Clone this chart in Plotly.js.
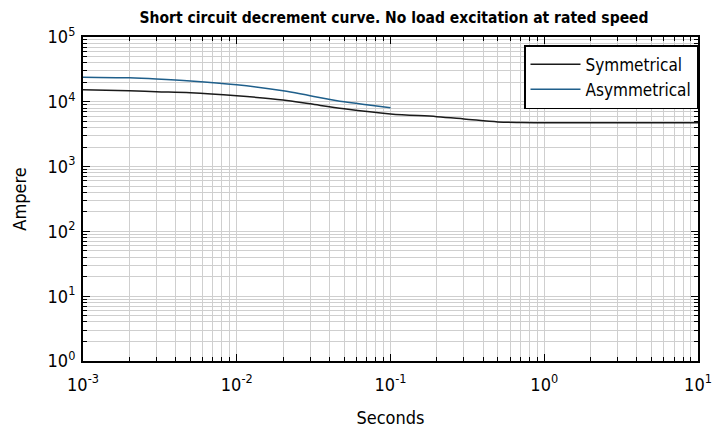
<!DOCTYPE html>
<html><head><meta charset="utf-8">
<script src="https://cdn.plot.ly/plotly-3.0.1.min.js"></script>
<style>html,body{margin:0;padding:0;background:#fff}#chart{width:723px;height:433px}</style>
</head><body><div id="chart"></div>
<script>
const symX = [0.001, 0.002, 0.003, 0.005, 0.01, 0.02, 0.03, 0.05, 0.1, 0.2, 0.3, 0.5, 0.7, 1, 2, 5, 10];
const symY = [15300, 14800, 14300, 13800, 12400, 10700, 9300, 7800, 6500, 5900, 5450, 4900, 4780, 4750, 4750, 4750, 4750];
const asymX = [0.001, 0.002, 0.003, 0.005, 0.01, 0.02, 0.03, 0.05, 0.07, 0.1];
const asymY = [24000, 23400, 22500, 21000, 18300, 14800, 12400, 10000, 9000, 8100];
const xTickVals = [0.001, 0.01, 0.1, 1, 10];
const xTickText = ['10<sup>-3</sup>', '10<sup>-2</sup>', '10<sup>-1</sup>', '10<sup>0</sup>', '10<sup>1</sup>'];
const yTickVals = [1, 10, 100, 1000, 10000, 100000];
const yTickText = ['10<sup>0</sup>', '10<sup>1</sup>', '10<sup>2</sup>', '10<sup>3</sup>', '10<sup>4</sup>', '10<sup>5</sup>'];

const FONT = '"Liberation Sans Narrow", "DejaVu Sans Condensed", "Roboto", sans-serif';
const axisCommon = {
  type: 'log', showline: true, linecolor: '#000', linewidth: 2, mirror: 'allticks',
  ticks: 'inside', ticklen: 7, tickwidth: 1, tickcolor: '#000',
  showgrid: true, gridcolor: '#cfcfcf', gridwidth: 1, zeroline: false,
  tickfont: {family: FONT, size: 18, color: '#000'},
  minor: {dtick: 'D1', showgrid: true, gridcolor: '#cfcfcf', gridwidth: 1, ticks: 'inside', ticklen: 4, tickcolor: '#000'}
};
const data = [
  {x: symX, y: symY, mode: 'lines', name: 'Symmetrical', line: {color: '#1a1a1a', width: 1.5, shape: 'spline'}},
  {x: asymX, y: asymY, mode: 'lines', name: 'Asymmetrical', line: {color: '#1f5f8b', width: 1.5, shape: 'spline'}}
];
const layout = {
  width: 723, height: 433,
  margin: {l: 83, r: 25, t: 37, b: 72},
  paper_bgcolor: '#fff', plot_bgcolor: '#fff',
  title: {text: '<b>Short circuit decrement curve. No load excitation at rated speed</b>', font: {family: FONT, size: 15.5, color: '#000'}, x: 0.545, xanchor: 'center', y: 0.96, yanchor: 'middle'},
  xaxis: Object.assign({}, axisCommon, {range: [-3, 1], tickvals: xTickVals, ticktext: xTickText, ticklabelstandoff: 6,
    title: {text: 'Seconds', font: {family: FONT, size: 18, color: '#000'}, standoff: 18}}),
  yaxis: Object.assign({}, axisCommon, {range: [0, 5], tickvals: yTickVals, ticktext: yTickText, ticklabelstandoff: 2,
    title: {text: 'Ampere', font: {family: FONT, size: 18, color: '#000'}, standoff: 16}}),
  legend: {x: 1.0, y: 0.975, xanchor: 'right', yanchor: 'top', bgcolor: '#fff', bordercolor: '#000', borderwidth: 1.5,
    font: {family: FONT, size: 17, color: '#000'}, itemwidth: 50, tracegroupgap: 4},
  showlegend: true
};
Plotly.newPlot('chart', data, layout, {displayModeBar: false, staticPlot: true});
</script></body></html>
